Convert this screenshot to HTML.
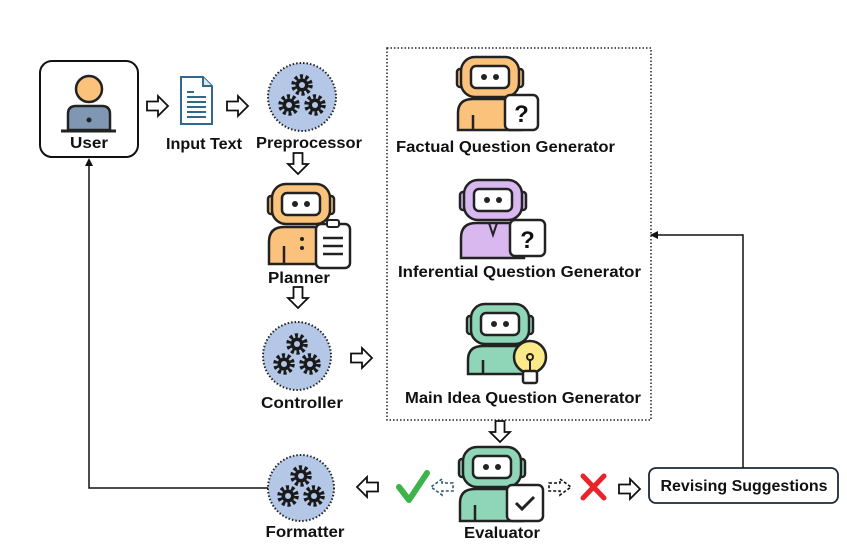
<!DOCTYPE html>
<html><head><meta charset="utf-8"><style>
html,body{margin:0;padding:0;background:#fff;}
svg{display:block}
text{font-family:"Liberation Sans",sans-serif;font-weight:bold;font-size:16px;fill:#111;text-anchor:middle}
</style></head><body>
<svg width="847" height="547" viewBox="0 0 847 547" xmlns="http://www.w3.org/2000/svg">
<defs>
  <g id="gear">
    <circle r="8.5" fill="none" stroke="#1a1a1a" stroke-width="4.5" stroke-dasharray="3 2.4"/>
    <circle r="6.5" fill="#1a1a1a"/>
    <circle r="3" fill="#b4c7e7"/>
  </g>
  <g id="gears">
    <use href="#gear" x="0" y="-12"/>
    <use href="#gear" x="-13" y="8"/>
    <use href="#gear" x="13" y="8"/>
  </g>
  <path id="harrow" d="M0,-4.5 H11 V-10 L21,0 L11,10 V4.5 H0 Z" fill="#fff" stroke="#111" stroke-width="1.8" stroke-linejoin="miter"/>
</defs>

<!-- User box -->
<rect x="40" y="61" width="98" height="96" rx="12" fill="#fff" stroke="#111" stroke-width="2"/>
<circle cx="89" cy="89" r="13" fill="#fbc27c" stroke="#222" stroke-width="2.5"/>
<path d="M68,130 V114 Q68,106 76,106 H102 Q110,106 110,114 V130 Z" fill="#7f97b3" stroke="#222" stroke-width="2.5"/>
<line x1="61" y1="131" x2="116" y2="131" stroke="#222" stroke-width="3"/>
<circle cx="89" cy="120" r="2.5" fill="#222"/>
<text x="89" y="148" textLength="38" lengthAdjust="spacingAndGlyphs">User</text>

<!-- input text doc -->
<path d="M181,77 H203 L212,86 V124 H181 Z" fill="#fff" stroke="#2d6a8e" stroke-width="2"/>
<path d="M203,77 V86 H212" fill="#dbe7f0" stroke="#2d6a8e" stroke-width="2"/>
<g stroke="#2d6a8e" stroke-width="2">
<line x1="187" y1="92" x2="194" y2="92"/>
<line x1="187" y1="97" x2="206" y2="97"/>
<line x1="187" y1="102" x2="206" y2="102"/>
<line x1="187" y1="107" x2="206" y2="107"/>
<line x1="187" y1="112" x2="206" y2="112"/>
<line x1="187" y1="117" x2="206" y2="117"/>
</g>
<text x="204" y="149" textLength="76" lengthAdjust="spacingAndGlyphs">Input Text</text>

<use href="#harrow" x="147" y="106"/>
<use href="#harrow" x="227" y="106"/>

<!-- gear circles -->
<circle cx="302" cy="97" r="34" fill="#b4c7e7" stroke="#222" stroke-width="2" stroke-dasharray="1.5 2"/>
<use href="#gears" x="302" y="97"/>
<text x="309" y="148" textLength="106" lengthAdjust="spacingAndGlyphs">Preprocessor</text>

<circle cx="297" cy="356" r="34" fill="#b4c7e7" stroke="#222" stroke-width="2" stroke-dasharray="1.5 2"/>
<use href="#gears" x="297" y="356"/>
<text x="302" y="408" textLength="82" lengthAdjust="spacingAndGlyphs">Controller</text>

<circle cx="301" cy="488" r="33" fill="#b4c7e7" stroke="#222" stroke-width="2" stroke-dasharray="1.5 2"/>
<use href="#gears" x="301" y="488"/>
<text x="305" y="537" textLength="79" lengthAdjust="spacingAndGlyphs">Formatter</text>

<!-- vertical arrows -->
<use href="#harrow" transform="translate(298,153) rotate(90)"/>
<use href="#harrow" transform="translate(298,287) rotate(90)"/>
<use href="#harrow" transform="translate(500,421) rotate(90)"/>
<use href="#harrow" x="351" y="358"/>

<!-- Planner robot -->
<g transform="translate(268,184)">
  <rect x="0" y="12" width="8" height="18" rx="3" fill="#fbc27c" stroke="#222" stroke-width="2.5"/>
  <rect x="58" y="12" width="8" height="18" rx="3" fill="#fbc27c" stroke="#222" stroke-width="2.5"/>
  <rect x="4" y="0" width="58" height="40" rx="14" fill="#fbc27c" stroke="#222" stroke-width="2.5"/>
  <rect x="14" y="9" width="38" height="22" rx="5" fill="#fff" stroke="#222" stroke-width="2.5"/>
  <circle cx="27" cy="20" r="3" fill="#222"/><circle cx="39" cy="20" r="3" fill="#222"/>
  <path d="M1,80 V58 Q1,43 16,43 H50 Q64,43 64,58 V80 Z" fill="#fbc27c" stroke="#222" stroke-width="2.5"/>
  <line x1="16" y1="62" x2="16" y2="80" stroke="#222" stroke-width="2.5"/>
  <circle cx="34" cy="55" r="2" fill="#222"/><circle cx="34" cy="64" r="2" fill="#222"/>
  <rect x="48" y="40" width="34" height="44" rx="5" fill="#fff" stroke="#222" stroke-width="2.5"/>
  <rect x="59" y="36" width="12" height="7" rx="2" fill="#fff" stroke="#222" stroke-width="2"/>
  <g stroke="#222" stroke-width="2.5"><line x1="55" y1="54" x2="75" y2="54"/><line x1="55" y1="62" x2="75" y2="62"/><line x1="55" y1="70" x2="75" y2="70"/></g>
</g>
<text x="299" y="283" textLength="62" lengthAdjust="spacingAndGlyphs">Planner</text>

<!-- dotted box -->
<rect x="387" y="48" width="264" height="372" fill="none" stroke="#222" stroke-width="1.5" stroke-dasharray="1.5 2"/>

<!-- Factual robot -->
<g transform="translate(457,57)">
  <rect x="0" y="12" width="8" height="18" rx="3" fill="#fbc27c" stroke="#222" stroke-width="2.5"/>
  <rect x="58" y="12" width="8" height="18" rx="3" fill="#fbc27c" stroke="#222" stroke-width="2.5"/>
  <rect x="4" y="0" width="58" height="40" rx="14" fill="#fbc27c" stroke="#222" stroke-width="2.5"/>
  <rect x="14" y="9" width="38" height="22" rx="5" fill="#fff" stroke="#222" stroke-width="2.5"/>
  <circle cx="27" cy="20" r="3" fill="#222"/><circle cx="39" cy="20" r="3" fill="#222"/>
  <path d="M1,73 V56 Q1,42 16,42 H50 Q64,42 64,56 V73 Z" fill="#fbc27c" stroke="#222" stroke-width="2.5"/>
  <line x1="16" y1="58" x2="16" y2="73" stroke="#222" stroke-width="2.5"/>
  <rect x="48" y="38" width="33" height="35" rx="5" fill="#fff" stroke="#222" stroke-width="2.5"/>
  <text x="64.5" y="65" style="font-size:24px">?</text>
</g>
<text x="505.5" y="152" textLength="219" lengthAdjust="spacingAndGlyphs">Factual Question Generator</text>

<!-- Inferential robot -->
<g transform="translate(460,180)">
  <rect x="0" y="12" width="8" height="18" rx="3" fill="#d9b8ef" stroke="#222" stroke-width="2.5"/>
  <rect x="58" y="12" width="8" height="18" rx="3" fill="#d9b8ef" stroke="#222" stroke-width="2.5"/>
  <rect x="4" y="0" width="58" height="40" rx="14" fill="#d9b8ef" stroke="#222" stroke-width="2.5"/>
  <rect x="14" y="9" width="38" height="22" rx="5" fill="#fff" stroke="#222" stroke-width="2.5"/>
  <circle cx="27" cy="20" r="3" fill="#222"/><circle cx="39" cy="20" r="3" fill="#222"/>
  <path d="M1,78 V58 Q1,43 16,43 H50 Q64,43 64,58 V78 Z" fill="#d9b8ef" stroke="#222" stroke-width="2.5"/>
  <path d="M29,43 L33,55 L37,43" fill="none" stroke="#222" stroke-width="2"/>
  <rect x="50" y="40" width="35" height="36" rx="5" fill="#fff" stroke="#222" stroke-width="2.5"/>
  <text x="67.5" y="68" style="font-size:24px">?</text>
</g>
<text x="519.5" y="277" textLength="243" lengthAdjust="spacingAndGlyphs">Inferential Question Generator</text>

<!-- Main idea robot -->
<g transform="translate(467,304)">
  <rect x="0" y="12" width="8" height="18" rx="3" fill="#8fd5b8" stroke="#222" stroke-width="2.5"/>
  <rect x="58" y="12" width="8" height="18" rx="3" fill="#8fd5b8" stroke="#222" stroke-width="2.5"/>
  <rect x="4" y="0" width="58" height="40" rx="14" fill="#8fd5b8" stroke="#222" stroke-width="2.5"/>
  <rect x="14" y="9" width="38" height="22" rx="5" fill="#fff" stroke="#222" stroke-width="2.5"/>
  <circle cx="27" cy="20" r="3" fill="#222"/><circle cx="39" cy="20" r="3" fill="#222"/>
  <path d="M1,70 V56 Q1,42 16,42 H50 Q64,42 64,56 V70 Z" fill="#8fd5b8" stroke="#222" stroke-width="2.5"/>
  <line x1="16" y1="56" x2="16" y2="70" stroke="#222" stroke-width="2.5"/>
  <circle cx="63" cy="53" r="16" fill="#fbe98a" stroke="#222" stroke-width="2.5"/>
  <rect x="56" y="67" width="14" height="12" rx="2" fill="#fff" stroke="#222" stroke-width="2.5"/>
  <circle cx="63" cy="53" r="3" fill="none" stroke="#222" stroke-width="2"/>
  <line x1="63" y1="56" x2="63" y2="67" stroke="#222" stroke-width="2"/>
</g>
<text x="523" y="403" textLength="236" lengthAdjust="spacingAndGlyphs">Main Idea Question Generator</text>

<!-- Evaluator robot -->
<g transform="translate(459,447)">
  <rect x="0" y="12" width="8" height="18" rx="3" fill="#8fd5b8" stroke="#222" stroke-width="2.5"/>
  <rect x="58" y="12" width="8" height="18" rx="3" fill="#8fd5b8" stroke="#222" stroke-width="2.5"/>
  <rect x="4" y="0" width="58" height="40" rx="14" fill="#8fd5b8" stroke="#222" stroke-width="2.5"/>
  <rect x="14" y="9" width="38" height="22" rx="5" fill="#fff" stroke="#222" stroke-width="2.5"/>
  <circle cx="27" cy="20" r="3" fill="#222"/><circle cx="39" cy="20" r="3" fill="#222"/>
  <path d="M1,74 V56 Q1,42 16,42 H50 Q64,42 64,56 V74 Z" fill="#8fd5b8" stroke="#222" stroke-width="2.5"/>
  <line x1="16" y1="58" x2="16" y2="74" stroke="#222" stroke-width="2.5"/>
  <rect x="48" y="38" width="36" height="36" rx="5" fill="#fff" stroke="#222" stroke-width="2.5"/>
  <path d="M57,56 L63,62 L75,50" fill="none" stroke="#222" stroke-width="3"/>
</g>
<text x="502" y="538" textLength="76" lengthAdjust="spacingAndGlyphs">Evaluator</text>

<!-- check & cross -->
<path d="M399,487 L409,500 L427,473" fill="none" stroke="#3cb44b" stroke-width="6" stroke-linecap="round" stroke-linejoin="round"/>
<path d="M453,483 H442 V479 L431,487 L442,495 V491 H453 Z" fill="#fff" stroke="#2d5a7a" stroke-width="1.6" stroke-dasharray="3 2"/>
<path d="M549,483 H560 V479 L571,487 L560,495 V491 H549 Z" fill="#fff" stroke="#111" stroke-width="1.6" stroke-dasharray="3 2"/>
<path d="M583,476 L604,498 M604,476 L583,498" stroke="#e8232a" stroke-width="5" stroke-linecap="round"/>
<use href="#harrow" x="619" y="489"/>
<use href="#harrow" transform="translate(378,487) rotate(180)"/>

<!-- Revising suggestions -->
<rect x="649" y="468" width="189" height="35" rx="7" fill="#fff" stroke="#1a2a3a" stroke-width="1.8"/>
<text x="744" y="491" textLength="167" lengthAdjust="spacingAndGlyphs">Revising Suggestions</text>

<!-- connectors -->
<path d="M743,468 V235 H656" fill="none" stroke="#111" stroke-width="1.5"/>
<path d="M650,235 L658,231 L658,239 Z" fill="#111"/>
<path d="M268,488 H89 V164" fill="none" stroke="#111" stroke-width="1.5"/>
<path d="M89,158 L85,166 L93,166 Z" fill="#111"/>
</svg>
</body></html>
